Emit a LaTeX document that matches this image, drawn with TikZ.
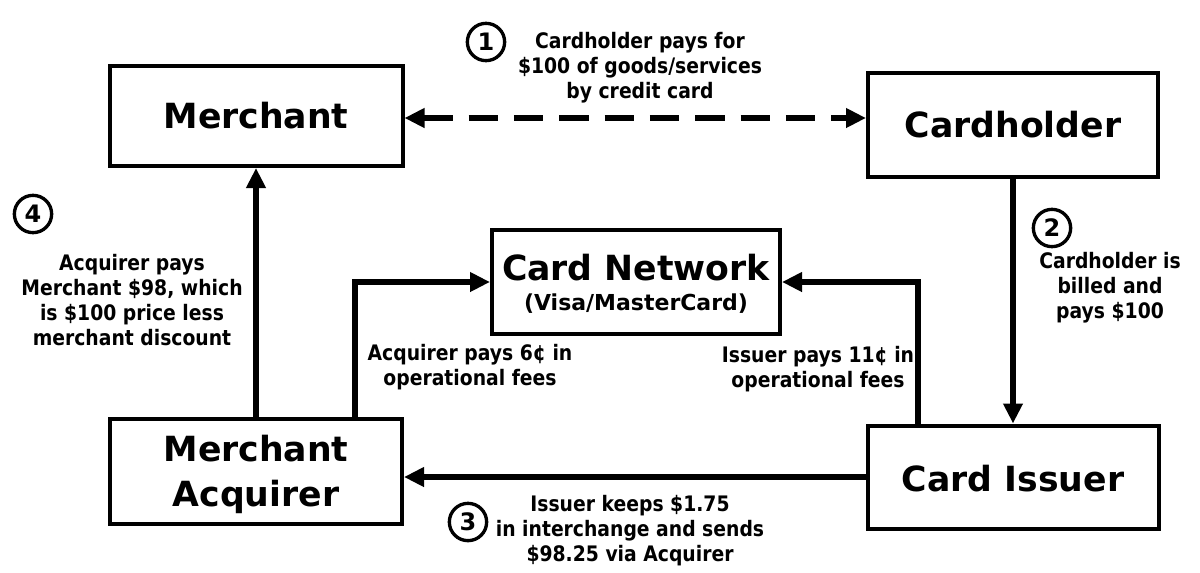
\documentclass[tikz,border=0pt]{standalone}
\usepackage{fontspec}
\setmainfont{DejaVu Sans}
\newfontfamily\smf{DejaVu Sans}[FakeStretch=0.88]
\usetikzlibrary{arrows.meta}
\begin{document}
\begin{tikzpicture}[x=0.75pt,y=-0.75pt,
  box/.style={draw,line width=3pt,inner sep=0pt},
  title/.style={font=\bfseries\fontsize{26}{33.75}\selectfont,align=center,inner sep=0pt},
  subtitle/.style={font=\bfseries\fontsize{16.5}{18}\selectfont,inner sep=0pt},
  num/.style={circle,draw,line width=2.5pt,minimum size=28pt,inner sep=0pt,font=\bfseries\fontsize{18}{18}\selectfont},
  lbl/.style={align=center,inner sep=0pt,font=\smf\bfseries\fontsize{16}{18.75}\selectfont},
  tip/.tip={Triangle[length=15pt,width=14pt]},
  flow/.style={line width=4.5pt,-tip},
  dflow/.style={line width=4.5pt,dash pattern=on 22pt off 12pt,tip-tip}
]
\useasboundingbox (0,0) rectangle (1200,572);
\fill[white] (0,0) rectangle (1200,572);

% boxes
\node[box,minimum width=219.75pt,minimum height=75pt] (merchant) at (256,116) {};
\node[title] (merchantt) at (256,116) {Merchant};
\node[box,minimum width=217.5pt,minimum height=78pt] (cardholder) at (1013,125) {};
\node[title] (cardholdert) at (1013,125) {Cardholder};
\node[box,minimum width=216pt,minimum height=78pt] (network) at (636,282) {};
\node[title] (networkt) at (636,268) {Card Network};
\node[subtitle] (networks) at (636,304) {(Visa/MasterCard)};
\node[box,minimum width=219pt,minimum height=78.75pt] (acquirer) at (256,471) {};
\node[title] (acquirert) at (256,474) {Merchant\\Acquirer};
\node[box,minimum width=218.25pt,minimum height=77.25pt] (issuer) at (1013,477) {};
\node[title] (issuert) at (1013,479) {Card Issuer};

% connectors
\coordinate (dy) at (0,118);
\coordinate (lx) at (355,0);
\coordinate (rx) at (918,0);
\draw[dflow] (merchant.east |- dy) -- (cardholder.west |- dy);
\draw[flow] (acquirer.north) -- (merchant.south);
\draw[flow] (cardholder.south) -- (issuer.north);
\draw[flow] (issuer.west) -- (acquirer.east |- issuer.west);
\draw[flow] (acquirer.north -| lx) |- (network.west);
\draw[flow] (issuer.north -| rx) |- (network.east);

% step numbers
\node[num] (n1) at (486,42) {1};
\node[num] (n2) at (1052,228) {2};
\node[num] (n3) at (468,522) {3};
\node[num] (n4) at (33,214) {4};

% labels
\node[lbl] (l1) at (640,68) {Cardholder pays for\\\$100 of goods/services\\by credit card};
\node[lbl] (l2) at (1110,288) {Cardholder is\\billed and\\pays \$100};
\node[lbl] (l3) at (630,531) {Issuer keeps \$1.75\\in interchange and sends\\\$98.25 via Acquirer};
\node[lbl] (l4) at (132,300) {Acquirer pays\\Merchant \$98, which\\is \$100 price less\\merchant discount};
\node[lbl] (l5) at (470,367) {Acquirer pays 6¢ in\\operational fees};
\node[lbl] (l6) at (818,369) {Issuer pays 11¢ in\\operational fees};
\end{tikzpicture}
\end{document}
